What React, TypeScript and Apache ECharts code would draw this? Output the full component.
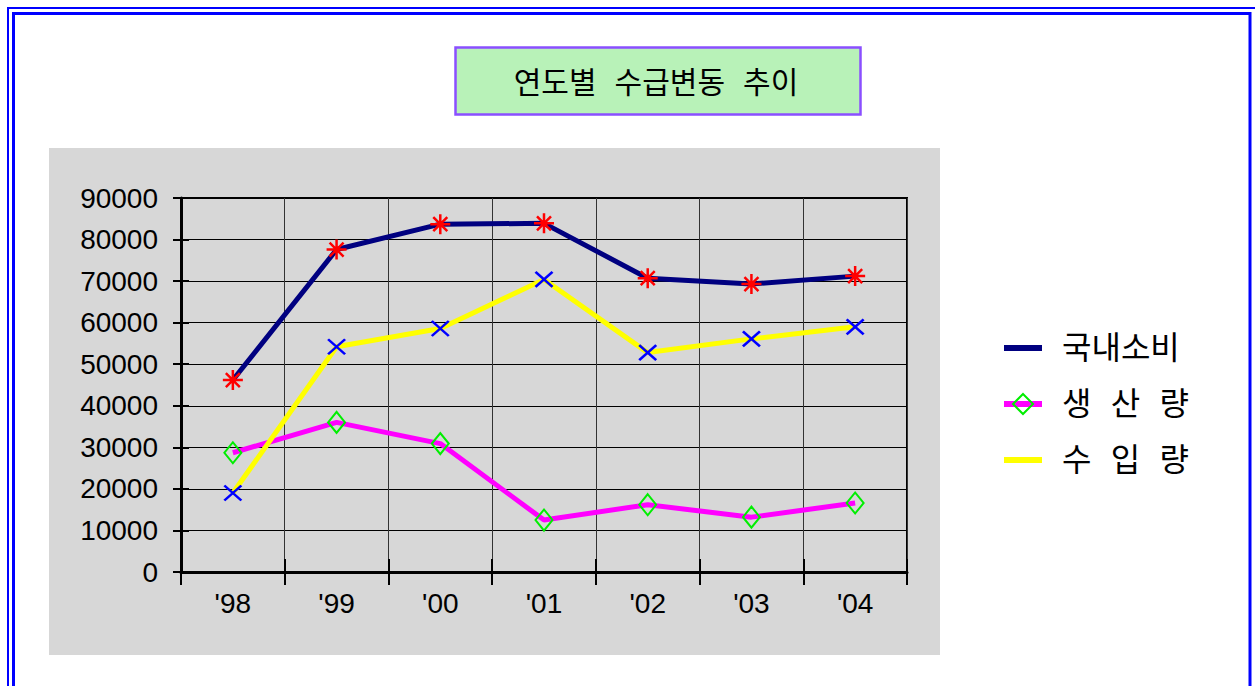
import React, { useEffect, useRef } from "react";
import * as echarts from "echarts";

const years = ["'98", "'99", "'00", "'01", "'02", "'03", "'04"];
const consumption = [46200, 77600, 83700, 83900, 70700, 69300, 71200];
const production = [28700, 36000, 30900, 12500, 16200, 13200, 16600];
const imports = [19000, 54200, 58600, 70400, 52800, 56100, 59000];
const seriesNames = ["국내소비", "생 산 량", "수 입 량"];
const titleText = "연도별 수급변동 추이";

const STAR = "path://M10,0 L10,20 M0,10 L20,10 M3,3 L17,17 M17,3 L3,17";
const CROSS = "path://M0,0 L16,16 M16,0 L0,16";
const BAR_ICON = "path://M0,0 L38,0 L38,6 L0,6 Z";

const numFont = "'Liberation Sans', Arial, sans-serif";
// wide spaces come from the monospace font, Hangul falls back to Noto Sans CJK KR
const krFont = "'DejaVu Sans Mono', 'Noto Sans CJK KR', sans-serif";

export default function App() {
  const ref = useRef<HTMLDivElement>(null);
  useEffect(() => {
    if (!ref.current) return;
    const chart = echarts.init(ref.current, null, { renderer: "svg" });
    chart.setOption({
      animation: false,
      backgroundColor: "#ffffff",
      graphic: [
        { type: "rect", z: -1, shape: { x: 8, y: 8, width: 1262, height: 700 }, style: { fill: "none", stroke: "#0000ff", lineWidth: 2 } },
        { type: "rect", z: -1, shape: { x: 13.5, y: 13.5, width: 1236.5, height: 700 }, style: { fill: "none", stroke: "#0000ff", lineWidth: 3 } },
        { type: "rect", z: -1, shape: { x: 49, y: 148, width: 891, height: 507 }, style: { fill: "#d7d7d7" } },
        { type: "rect", z: -1, shape: { x: 455.5, y: 47.5, width: 405, height: 67 }, style: { fill: "#b8f2b8", stroke: "#8a4fff", lineWidth: 2.5 } },
        {
          type: "text",
          x: 656,
          y: 82,
          style: {
            text: titleText,
            fill: "#000",
            font: `30px ${krFont}`,
            textAlign: "center",
            textVerticalAlign: "middle",
          },
        },
      ],
      legend: {
        orient: "vertical",
        left: 1001,
        top: 332,
        padding: 0,
        itemWidth: 38,
        itemHeight: 25,
        itemGap: 24,
        textStyle: { fontFamily: krFont, fontSize: 32, color: "#000", lineHeight: 30, padding: [0, 0, 0, 15] },
        data: [
          { name: seriesNames[0], icon: BAR_ICON, itemStyle: { color: "#000080", borderWidth: 0 } },
          { name: seriesNames[1], lineStyle: { color: "#ff00ff", width: 6 } },
          { name: seriesNames[2], icon: BAR_ICON, itemStyle: { color: "#ffff00", borderWidth: 0 } },
        ],
      },
      grid: {
        left: 181,
        top: 198,
        width: 726,
        height: 374,
        show: true,
        backgroundColor: "transparent",
        borderColor: "#000",
        borderWidth: 2,
      },
      xAxis: [
        {
          type: "category",
          data: years,
          boundaryGap: true,
          position: "bottom",
          axisLine: { show: true, lineStyle: { color: "#000", width: 3 } },
          axisTick: { show: true, length: 13, lineStyle: { color: "#000", width: 2 } },
          axisLabel: { color: "#000", fontFamily: numFont, fontSize: 28, margin: 17 },
          splitLine: { show: true, lineStyle: { color: "#333", width: 1 } },
        },
        {
          type: "category",
          data: years,
          boundaryGap: true,
          position: "bottom",
          axisLine: { show: false },
          axisTick: { show: true, inside: true, length: 13, lineStyle: { color: "#000", width: 2 } },
          axisLabel: { show: false },
          splitLine: { show: false },
        },
      ],
      yAxis: [
        {
          type: "value",
          min: 0,
          max: 90000,
          interval: 10000,
          position: "left",
          axisLine: { show: true, lineStyle: { color: "#000", width: 3 } },
          axisTick: { show: true, length: 8, lineStyle: { color: "#000", width: 2 } },
          axisLabel: { color: "#000", fontFamily: numFont, fontSize: 28, margin: 23, formatter: (v: number) => String(v) },
          splitLine: { show: true, lineStyle: { color: "#000", width: 1 } },
        },
        {
          type: "value",
          min: 0,
          max: 90000,
          interval: 10000,
          position: "left",
          offset: 0,
          axisLine: { show: false },
          axisTick: { show: true, inside: true, length: 8, lineStyle: { color: "#000", width: 2 } },
          axisLabel: { show: false },
          splitLine: { show: false },
        },
      ],
      series: [
        {
          name: seriesNames[0],
          type: "line",
          data: consumption,
          symbol: STAR,
          symbolSize: 20,
          lineStyle: { color: "#000080", width: 5 },
          itemStyle: { color: "#ff0000", borderColor: "#ff0000", borderWidth: 2.5 },
        },
        {
          name: seriesNames[1],
          type: "line",
          data: production,
          symbol: "diamond",
          symbolSize: [17, 21],
          lineStyle: { color: "#ff00ff", width: 5 },
          itemStyle: { color: "rgba(0,0,0,0)", borderColor: "#00ee00", borderWidth: 2 },
        },
        {
          name: seriesNames[2],
          type: "line",
          data: imports,
          symbol: CROSS,
          symbolSize: [17, 15],
          lineStyle: { color: "#ffff00", width: 5 },
          itemStyle: { color: "#0000ff", borderColor: "#0000ff", borderWidth: 2.5 },
        },
      ],
    });
    return () => chart.dispose();
  }, []);
  return <div ref={ref} style={{ position: "absolute", left: 0, top: 0, width: 1255, height: 686 }} />;
}
